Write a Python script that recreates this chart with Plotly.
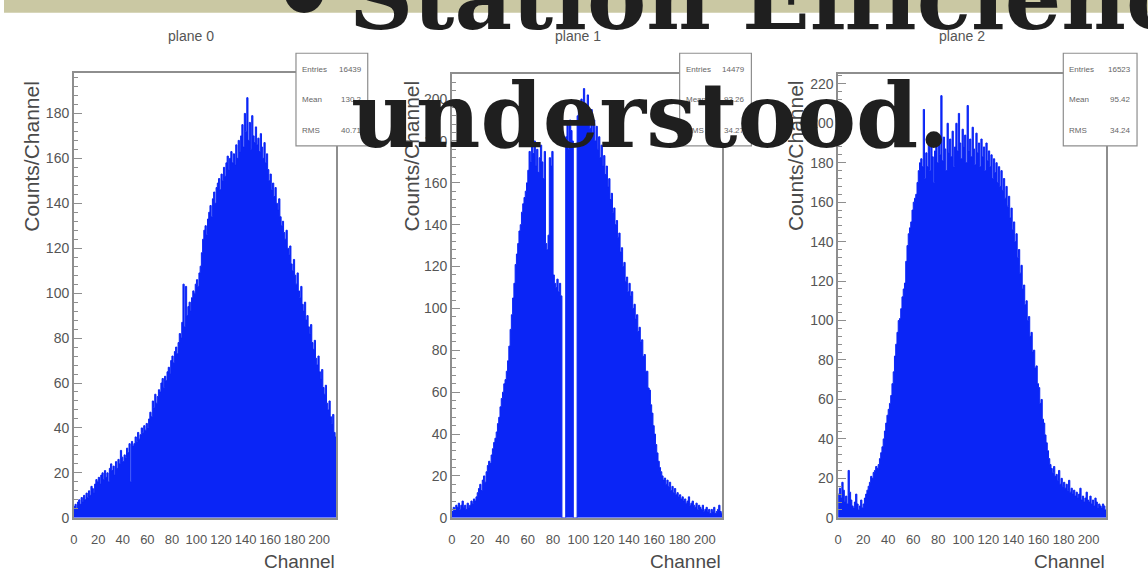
import plotly.graph_objects as go

W, H = 1148, 583

channels = list(range(214))

plane0 = [
    5, 6, 4, 7, 8, 6, 9, 7, 10, 8,
    11, 9, 12, 10, 14, 13, 11, 15, 17, 16,
    18, 15, 19, 20, 17, 21, 18, 20, 16, 22,
    24, 21, 23, 19, 25, 22, 26, 24, 30, 27,
    25, 28, 27, 31, 29, 33, 16, 34, 32, 33,
    36, 34, 38, 35, 37, 40, 38, 41, 39, 42,
    40, 44, 47, 45, 52, 49, 55, 51, 54, 57,
    56, 60, 62, 58, 63, 61, 65, 67, 64, 70,
    72, 69, 74, 76, 73, 78, 82, 80, 87, 104,
    85, 103, 90, 94, 96, 92, 98, 101, 100, 104,
    106, 103, 109, 112, 118, 124, 128, 130, 126, 133,
    136, 139, 134, 142, 145, 140, 147, 149, 151, 146,
    153, 150, 156, 152, 158, 161, 155, 160, 163, 158,
    162, 157, 166, 160, 168, 163, 170, 175, 165, 180,
    172, 187, 168, 176, 164, 179, 170, 167, 174, 166,
    169, 163, 171, 165, 160, 167, 158, 162, 155, 150,
    153, 146, 149, 143, 147, 140, 137, 142, 134, 130,
    132, 127, 124, 128, 120, 117, 121, 113, 110, 115,
    108, 104, 109, 101, 98, 103, 95, 92, 96, 88,
    90, 85, 82, 86, 78, 75, 79, 71, 68, 72,
    65, 62, 66, 58, 55, 59, 51, 48, 52, 45,
    42, 46, 38, 36,
]

plane1 = [
    3, 5, 4, 6, 5, 7, 4, 6, 8, 5,
    6, 4, 7, 5, 6, 8, 7, 9, 8, 10,
    12, 14, 16, 13, 18, 20, 17, 22, 25, 27,
    26, 30, 33, 36, 38, 41, 45, 48, 53, 57,
    60, 64, 66, 70, 75, 82, 90, 97, 105, 112,
    121, 126, 131, 137, 140, 146, 150, 153, 156, 160,
    166, 175, 170, 178, 174, 180, 168, 176, 165, 172,
    178, 170, 162, 175, 131, 128, 135, 172, 168, 175,
    116, 112, 110, 114, 108, 112, 106, 0, 0, 0,
    182, 188, 176, 190, 185, 180, 0, 0, 0, 192,
    196, 188, 200, 194, 205, 198, 190, 202, 193, 186,
    195, 184, 190, 180, 187, 176, 182, 172, 178, 168,
    173, 164, 168, 158, 162, 152, 155, 146, 148, 140,
    142, 134, 136, 127, 129, 120, 122, 113, 115, 108,
    112, 106, 108, 100, 102, 95, 97, 89, 91, 84,
    85, 77, 78, 70, 70, 62, 61, 54, 50, 44,
    40, 35, 31, 27, 24, 22, 20, 18, 19, 16,
    18, 15, 17, 13, 15, 12, 14, 11, 12, 10,
    11, 9, 10, 8, 9, 7, 8, 10, 6, 7,
    8, 6, 5, 7, 4, 6, 5, 4, 6, 3,
    4, 5, 3, 4, 2, 4, 3, 5, 2, 3,
    4, 6, 3, 2,
]

plane2 = [
    12, 15, 10, 18, 14, 8, 11, 7, 24, 13,
    9, 6, 5, 8, 12, 7, 4, 6, 9, 5,
    7, 10, 12, 14, 16, 18, 21, 20, 23, 24,
    26, 25, 27, 30, 33, 36, 40, 44, 48, 52,
    55, 58, 62, 68, 74, 82, 88, 94, 100, 101,
    106, 112, 116, 119, 130, 138, 144, 147, 150, 156,
    160, 162, 164, 170, 176, 180, 182, 178, 207, 172,
    185, 178, 192, 176, 188, 183, 170, 186, 195, 180,
    190, 184, 214, 181, 193, 187, 176, 200, 185, 192,
    183, 196, 178, 188, 200, 186, 205, 190, 182, 197,
    188, 194, 180, 209, 186, 192, 183, 198, 187, 179,
    195, 185, 190, 178, 192, 183, 188, 176, 190, 181,
    186, 178, 184, 172, 182, 175, 180, 170, 178, 168,
    176, 166, 172, 162, 168, 158, 163, 152, 157, 146,
    150, 140, 144, 132, 136, 124, 128, 116, 118, 108,
    110, 100, 102, 92, 94, 84, 85, 76, 77, 68,
    66, 58, 60, 50, 48, 42, 38, 34, 30, 27,
    25, 23, 26, 21, 22, 19, 24, 17, 20, 16,
    18, 15, 17, 14, 19, 13, 15, 12, 14, 11,
    13, 10, 12, 15, 9, 11, 8, 10, 13, 9,
    8, 11, 7, 9, 6, 10, 8, 5, 7, 6,
    5, 7, 6, 4,
]

titles = ["plane 0", "plane 1", "plane 2"]
entries = ["16439", "14479", "16523"]
means = ["130.2", "93.26", "95.42"]
rms_vals = ["40.71", "34.27", "34.24"]
y_max = [198, 212, 225]
x_ticks = list(range(0, 201, 20))
x_title = "Channel"
y_title = "Counts/Channel"
headline1 = "Station Efficiency"
headline2 = "understood."

BLUE = "#0a25f6"
GRAY = "#8e8e8e"
TXT = "#555555"


def fx(p):
    return p / W


def fy(p):
    return 1 - p / H


panels = [
    dict(left=70, right=333.5, top=74, bottom=525, stat=(293, 365), tx=188, ytx=28),
    dict(left=449.5, right=721, top=75, bottom=525, stat=(678, 750), tx=576, ytx=409),
    dict(left=837, right=1106, top=75, bottom=525, stat=(1063, 1137), tx=961, ytx=795),
]

fig = go.Figure()
series = [plane0, plane1, plane2]
for i, vals in enumerate(series):
    n = "" if i == 0 else str(i + 1)
    edges = channels + [channels[-1] + 1]
    fig.add_trace(go.Scatter(
        x=edges, y=vals + [vals[-1]], mode="lines",
        line=dict(shape="hv", color=BLUE, width=1),
        fill="tozeroy", fillcolor=BLUE,
        xaxis="x" + n, yaxis="y" + n, hoverinfo="skip", showlegend=False,
    ))

layout = dict(
    width=W, height=H, autosize=False,
    margin=dict(l=0, r=0, t=0, b=0),
    paper_bgcolor="white", plot_bgcolor="white",
    font=dict(family="Liberation Sans, Arial, sans-serif", color=TXT),
    showlegend=False,
)

shapes = [dict(type="rect", xref="paper", yref="paper", x0=0, x1=1, y0=fy(13), y1=1,
               fillcolor="#cac8a3", line=dict(width=0), layer="below")]
annotations = []

for i, p in enumerate(panels):
    n = "" if i == 0 else str(i + 1)
    layout["xaxis" + n] = dict(
        domain=[fx(p["left"]), fx(p["right"])], range=[0, 214], anchor="y" + n,
        tickvals=x_ticks, ticks="outside", ticklen=9, tickcolor="rgba(0,0,0,0)",
        showline=True, mirror=True, linecolor=GRAY, linewidth=1.5,
        showgrid=False, zeroline=False,
        tickfont=dict(size=13, color=TXT),
    )
    layout["yaxis" + n] = dict(
        domain=[fy(p["bottom"]), fy(p["top"])], range=[0, y_max[i]], anchor="x" + n,
        tick0=0, dtick=20, ticks="inside", ticklen=8, tickcolor=GRAY, tickwidth=1,
        minor=dict(dtick=4, ticks="inside", ticklen=4, tickcolor=GRAY),
        showline=True, mirror=True, linecolor=GRAY, linewidth=1.5,
        showgrid=False, zeroline=False,
        tickfont=dict(size=14, color=TXT),
    )
    annotations.append(dict(text=titles[i], xref="paper", yref="paper",
                            x=fx(p["tx"]), y=fy(37), xanchor="center", yanchor="middle",
                            showarrow=False, font=dict(size=14, color=TXT)))
    annotations.append(dict(text=y_title, xref="paper", yref="paper",
                            x=fx(p["ytx"]), y=fy(158), xanchor="center", yanchor="middle",
                            textangle=-90, showarrow=False, font=dict(size=21, color="#4a4a4a")))
    annotations.append(dict(text=x_title, xref="paper", yref="paper",
                            x=fx(p["right"] + 1), y=fy(569), xanchor="right", yanchor="middle",
                            showarrow=False, font=dict(size=19, color="#4a4a4a")))
    s0, s1 = p["stat"]
    shapes.append(dict(type="rect", xref="paper", yref="paper",
                       x0=fx(s0), x1=fx(s1), y0=fy(148), y1=fy(54),
                       fillcolor="white", line=dict(color=GRAY, width=1.2), layer="above"))
    for row_y, lab, val in [(70, "Entries", entries[i]), (101, "Mean", means[i]), (132, "RMS", rms_vals[i])]:
        annotations.append(dict(text=lab, xref="paper", yref="paper", x=fx(s0 + 4), y=fy(row_y),
                                xanchor="left", yanchor="middle", showarrow=False,
                                font=dict(size=8, color="#666666")))
        annotations.append(dict(text=val, xref="paper", yref="paper", x=fx(s1 - 4), y=fy(row_y),
                                xanchor="right", yanchor="middle", showarrow=False,
                                font=dict(size=8, color="#666666")))

BIG = dict(family="DejaVu Serif", size=89, color="#1f1f1f", weight="bold")
annotations.append(dict(text="\u2022", xref="paper", yref="paper", x=fx(264), y=fy(64),
                        xanchor="left", yanchor="bottom", showarrow=False,
                        font=dict(family="DejaVu Serif", size=110, color="#1f1f1f", weight="bold")))
annotations.append(dict(text=headline1, xref="paper", yref="paper", x=fx(344), y=fy(53),
                        xanchor="left", yanchor="bottom", showarrow=False, font=BIG))
annotations.append(dict(text=headline2, xref="paper", yref="paper", x=fx(346), y=fy(172),
                        xanchor="left", yanchor="bottom", showarrow=False, font=BIG))

layout["shapes"] = shapes
layout["annotations"] = annotations
fig.update_layout(**layout)
fig.write_html("out.html")
